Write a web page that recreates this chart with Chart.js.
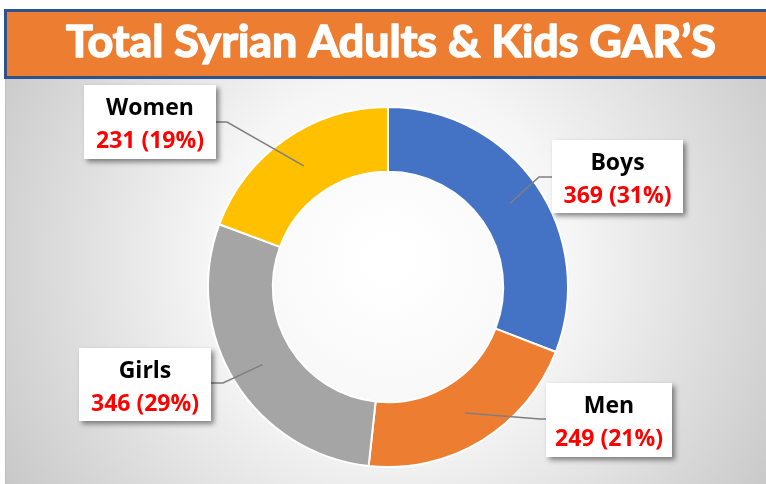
<!DOCTYPE html>
<html>
<head>
<meta charset="utf-8">
<script src="https://cdn.jsdelivr.net/npm/chart.js@4"></script>
<style>
  html, body { margin: 0; padding: 0; background: #fff; }
  canvas { display: block; }
</style>
</head>
<body>
<canvas id="gar-chart" width="766" height="484"></canvas>
<script>
// data
var categories = ['Boys', 'Men', 'Girls', 'Women'];
var counts = [369, 249, 346, 231];
var sliceColors = ['#4472C4', '#ED7D31', '#A5A5A5', '#FFC000'];
var titleText = 'Total Syrian Adults & Kids GAR\u2019S';

// where the call-out boxes sit (x, y, w, h) and which side the leader leaves from
var boxes = [
    { x: 552, y: 140, w: 131, h: 73, side: 'left',  elbow: 539, ly: 177 },
    { x: 546, y: 383, w: 126, h: 74, side: 'left',  elbow: 540, ly: 419 },
    { x: 79,  y: 348, w: 132, h: 73, side: 'right', elbow: 223, ly: 383 },
    { x: 84,  y: 85,  w: 132, h: 74, side: 'right', elbow: 227, ly: 122 }
];

var total = counts.reduce(function(a, b){ return a + b; }, 0);

var decorPlugin = {
    id: 'decor',
    beforeDraw: function(chart){
        var ctx = chart.ctx;
        ctx.save();
        ctx.fillStyle = '#fff';
        ctx.fillRect(0, 0, 766, 484);
        // grey radial backdrop
        var g = ctx.createRadialGradient(390, 260, 20, 390, 260, 470);
        g.addColorStop(0, '#ffffff');
        g.addColorStop(0.35, '#f6f6f6');
        g.addColorStop(1, '#c4c4c4');
        ctx.fillStyle = g;
        ctx.fillRect(5, 79, 761, 405);
        ctx.strokeStyle = '#bdbdbd';
        ctx.lineWidth = 1;
        ctx.beginPath();
        ctx.moveTo(5.5, 79);
        ctx.lineTo(5.5, 484);
        ctx.stroke();
        // title bar
        ctx.fillStyle = '#ED7D31';
        ctx.fillRect(5, 10, 770, 67);
        ctx.strokeStyle = '#2F528F';
        ctx.lineWidth = 3;
        ctx.strokeRect(5.5, 10.5, 770, 67);
        var size = 44;
        ctx.font = 'bold ' + size + 'px Lato';
        var w = ctx.measureText(titleText).width;
        size = size * 650 / w;
        ctx.font = 'bold ' + size + 'px Lato';
        ctx.textAlign = 'left';
        ctx.textBaseline = 'alphabetic';
        // heavier look: fill plus a thin stroke
        ctx.fillStyle = '#fff';
        ctx.strokeStyle = '#fff';
        ctx.lineWidth = 1.6;
        ctx.lineJoin = 'round';
        ctx.fillText(titleText, 66, 57);
        ctx.strokeText(titleText, 66, 57);
        ctx.restore();
    },
    afterDatasetsDraw: function(chart){
        var ctx = chart.ctx;
        var arcs = chart.getDatasetMeta(0).data;
        ctx.save();
        arcs.forEach(function(arc, i){
            var b = boxes[i];
            var mid = (arc.startAngle + arc.endAngle) / 2;
            var r = (arc.innerRadius + arc.outerRadius) / 2;
            var px = arc.x + Math.cos(mid) * r;
            var py = arc.y + Math.sin(mid) * r;
            var sx = b.side == 'left' ? b.x : b.x + b.w;
            ctx.strokeStyle = '#7f7f7f';
            ctx.lineWidth = 1.5;
            ctx.beginPath();
            ctx.moveTo(sx, b.ly);
            ctx.lineTo(b.elbow, b.ly);
            ctx.lineTo(px, py);
            ctx.stroke();

            ctx.save();
            ctx.shadowColor = 'rgba(0,0,0,0.45)';
            ctx.shadowBlur = 5;
            ctx.shadowOffsetX = 3;
            ctx.shadowOffsetY = 3;
            ctx.fillStyle = '#fff';
            ctx.fillRect(b.x, b.y, b.w, b.h);
            ctx.restore();

            var cx = b.x + b.w / 2;
            var pct = Math.round(counts[i] / total * 100);
            ctx.textAlign = 'center';
            ctx.textBaseline = 'alphabetic';
            ctx.font = 'bold 23px "Open Sans"';
            ctx.fillStyle = '#000';
            ctx.fillText(categories[i], cx, b.y + 30);
            ctx.fillStyle = '#FF0000';
            ctx.fillText(counts[i] + ' (' + pct + '%)', cx, b.y + 63);
        });
        ctx.restore();
    }
};

var myChart = new Chart(document.getElementById('gar-chart'), {
    type: 'doughnut',
    data: {
        labels: categories,
        datasets: [{
            data: counts,
            backgroundColor: sliceColors,
            borderColor: '#ffffff',
            borderWidth: 2
        }]
    },
    options: {
        responsive: false,
        animation: false,
        cutout: '64%',
        layout: { padding: { top: 106, bottom: 16, left: 10, right: 0 } },
        plugins: {
            legend: { display: false },
            tooltip: { enabled: false }
        }
    },
    plugins: [decorPlugin]
});
</script>
</body>
</html>
